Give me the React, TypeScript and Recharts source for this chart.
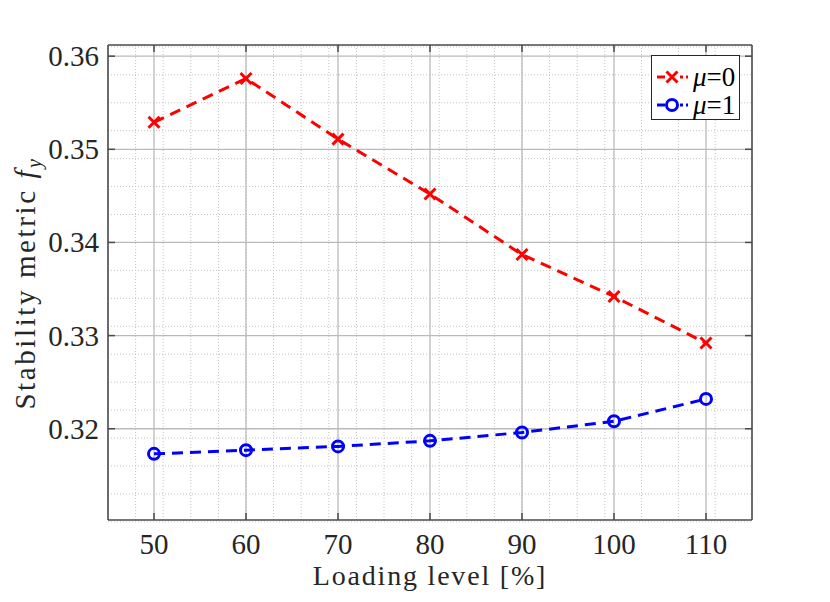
import { LineChart, Line, XAxis, YAxis, CartesianGrid } from 'recharts';

// loading level [%]
const loading = [50, 60, 70, 80, 90, 100, 110];
// stability metric f_y, mu = 0
const mu0 = [0.3529, 0.3576, 0.3511, 0.3452, 0.3387, 0.3342, 0.3292];
// stability metric f_y, mu = 1
const mu1 = [0.3173, 0.3177, 0.3181, 0.3187, 0.3196, 0.3208, 0.3232];

const xTicks = [50, 60, 70, 80, 90, 100, 110];
const yTicks = [0.32, 0.33, 0.34, 0.35, 0.36];
const muLabels = ['0', '1'];

const xMinor = Array.from({ length: 71 }, (_, i) => 45 + i);
const yMinor = Array.from({ length: 52 }, (_, i) => +(0.31 + i * 0.001).toFixed(3));

const data = loading.map((x, i) => ({ x, mu0: mu0[i], mu1: mu1[i] }));

const FONT = 'Liberation Serif';
const TXT = '#262626';
const AX = '#4a4a4a';
const RED = '#ff0000';
const BLUE = '#0000ff';

const txt = { fontFamily: FONT, fill: TXT };

const BottomTick = (p: any) => (
  <g>
    <line x1={p.x} x2={p.x} y1={p.y} y2={p.y - 7} stroke={AX} strokeWidth={1.5} />
    <text x={p.x} y={p.y + 34} textAnchor="middle" fontSize={29} style={txt}>
      {p.payload.value}
    </text>
  </g>
);

const TopTick = (p: any) => (
  <line x1={p.x} x2={p.x} y1={p.y} y2={p.y + 7} stroke={AX} strokeWidth={1.5} />
);

const LeftTick = (p: any) => (
  <g>
    <line x1={p.x} x2={p.x + 7} y1={p.y} y2={p.y} stroke={AX} strokeWidth={1.5} />
    <text x={p.x - 9} y={p.y + 10} textAnchor="end" fontSize={29} style={txt}>
      {p.payload.value.toFixed(2)}
    </text>
  </g>
);

const RightTick = (p: any) => (
  <line x1={p.x} x2={p.x - 7} y1={p.y} y2={p.y} stroke={AX} strokeWidth={1.5} />
);

const CrossDot = (p: any) => {
  const s = 5.5;
  return (
    <g key={p.key}>
      <line x1={p.cx - s} y1={p.cy - s} x2={p.cx + s} y2={p.cy + s} stroke={RED} strokeWidth={3} />
      <line x1={p.cx - s} y1={p.cy + s} x2={p.cx + s} y2={p.cy - s} stroke={RED} strokeWidth={3} />
    </g>
  );
};

const CircleDot = (p: any) => (
  <circle key={p.key} cx={p.cx} cy={p.cy} r={5.5} fill="none" stroke={BLUE} strokeWidth={3} />
);

const XLabel = () => (
  <text x={422} y={577} textAnchor="middle" fontSize={28} style={txt} letterSpacing={1.8}>
    Loading level [%]
  </text>
);

const YLabel = () => (
  <text
    transform="translate(27, 275) rotate(-90)"
    textAnchor="middle"
    fontSize={29}
    style={txt}
    letterSpacing={2.6}
  >
    Stability metric{' '}
    <tspan fontStyle="italic">f</tspan>
    <tspan fontStyle="italic" fontSize={20} dy={6}>y</tspan>
  </text>
);

const LegendBox = () => {
  const colors = [RED, BLUE];
  return (
    <svg width={90} height={66} style={{ position: 'absolute', left: 643, top: 47 }}>
      <rect x={0.5} y={0.5} width={88} height={64} fill="#fff" stroke={TXT} strokeWidth={1} />
      {muLabels.map((m, i) => {
        const cy = 22 + i * 28;
        return (
          <g key={m}>
            <line x1={6} x2={14} y1={cy} y2={cy} stroke={colors[i]} strokeWidth={3} />
            <line x1={29} x2={37} y1={cy} y2={cy} stroke={colors[i]} strokeWidth={3} strokeDasharray="3 3 6 0" />
            {i === 0 ? (
              <g>
                <line x1={15.5} y1={cy - 5.5} x2={26.5} y2={cy + 5.5} stroke={RED} strokeWidth={3} />
                <line x1={15.5} y1={cy + 5.5} x2={26.5} y2={cy - 5.5} stroke={RED} strokeWidth={3} />
              </g>
            ) : (
              <circle cx={21} cy={cy} r={5.5} fill="#fff" stroke={BLUE} strokeWidth={3} />
            )}
            <text x={42} y={cy + 9} fontSize={27} style={{ fontFamily: FONT, fill: '#000' }}>
              <tspan fontStyle="italic">μ</tspan>={m}
            </text>
          </g>
        );
      })}
    </svg>
  );
};

export default function App() {
  return (
    <div style={{ position: 'relative', width: 814, height: 586, background: '#fff', fontFamily: FONT }}>
      <LineChart width={814} height={586} data={data} margin={{ top: 36, right: 69, bottom: 0, left: 0 }}>
        <CartesianGrid
          horizontalValues={yMinor}
          verticalValues={xMinor}
          stroke="#c4c4c4"
          strokeDasharray="1 2"
          strokeWidth={1}
        />
        <CartesianGrid horizontalValues={yTicks} verticalValues={xTicks} stroke="#bababa" strokeWidth={1.3} />
        <XAxis
          dataKey="x"
          type="number"
          domain={[45, 115]}
          ticks={xTicks}
          allowDataOverflow
          height={74}
          tickLine={false}
          tickSize={0}
          tickMargin={0}
          tick={BottomTick}
          axisLine={{ stroke: AX, strokeWidth: 1.6 }}
          label={XLabel}
        />
        <XAxis
          xAxisId="top"
          orientation="top"
          dataKey="x"
          type="number"
          domain={[45, 115]}
          ticks={xTicks}
          allowDataOverflow
          height={1}
          tickLine={false}
          tickSize={0}
          tickMargin={0}
          tick={TopTick}
          axisLine={{ stroke: AX, strokeWidth: 1.6 }}
        />
        <YAxis
          type="number"
          domain={[0.3102, 0.3612]}
          ticks={yTicks}
          allowDataOverflow
          width={100}
          tickLine={false}
          tickSize={0}
          tickMargin={0}
          tick={LeftTick}
          axisLine={{ stroke: AX, strokeWidth: 1.6 }}
          label={YLabel}
        />
        <YAxis
          yAxisId="right"
          orientation="right"
          type="number"
          domain={[0.3102, 0.3612]}
          ticks={yTicks}
          allowDataOverflow
          width={1}
          tickLine={false}
          tickSize={0}
          tickMargin={0}
          tick={RightTick}
          axisLine={{ stroke: AX, strokeWidth: 1.6 }}
        />
        <Line
          dataKey="mu0"
          stroke={RED}
          strokeWidth={3}
          strokeDasharray="11 7"
          dot={CrossDot}
          isAnimationActive={false}
        />
        <Line
          dataKey="mu1"
          stroke={BLUE}
          strokeWidth={3}
          strokeDasharray="11 7"
          dot={CircleDot}
          isAnimationActive={false}
        />
      </LineChart>
      <LegendBox />
    </div>
  );
}
